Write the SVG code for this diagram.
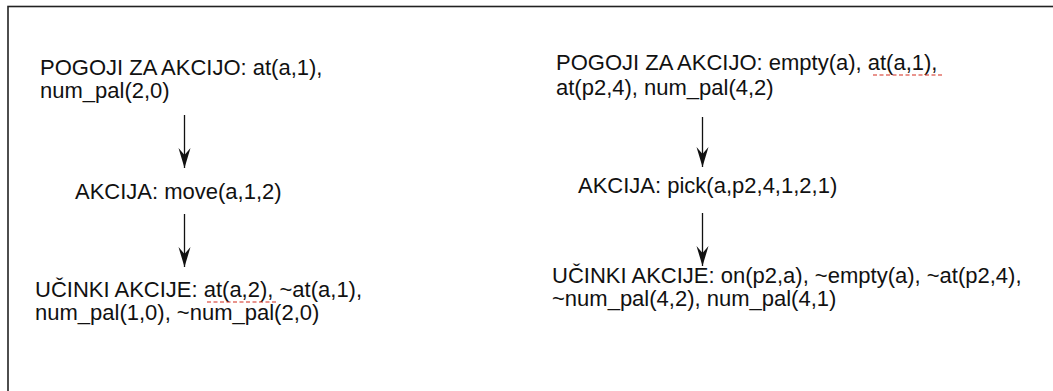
<svg xmlns="http://www.w3.org/2000/svg" width="1053" height="391" viewBox="0 0 1053 391">
  <style>
    .t { font-family: "Liberation Sans", Arial, sans-serif; font-size: 22px; fill: #111; }
    .frame { fill: none; stroke: #222; stroke-width: 1.6; }
    .edge { stroke: #111; stroke-width: 1.3; fill: none; marker-end: url(#head); }
    .wavy { stroke: #d42a1c; stroke-width: 1.2; stroke-dasharray: 4 2.5; fill: none; }
  </style>
  <defs>
    <marker id="head" markerUnits="userSpaceOnUse" viewBox="-21 -7 22 14" markerWidth="22" markerHeight="14" refX="0" refY="0" orient="auto">
      <path d="M0,0 L-20,-6 L-13,0 L-20,6 Z" fill="#111"/>
    </marker>
  </defs>
  <rect width="1053" height="391" fill="#fff"/>
  <!-- outer frame (continues past the right and bottom edges) -->
  <rect class="frame" x="8" y="6.5" width="1080" height="420"/>

  <g id="connectors">
    <line class="edge" x1="184.5" y1="115" x2="184.5" y2="168"/>
    <line class="edge" x1="184.5" y1="214" x2="184.5" y2="267"/>
    <line class="edge" x1="702.5" y1="117" x2="702.5" y2="167"/>
    <line class="edge" x1="702.5" y1="213" x2="702.5" y2="266"/>
  </g>

  <g id="left-pre">
    <text class="t" x="40" y="75">POGOJI ZA AKCIJO: at(a,1),</text>
    <text class="t" x="40" y="98">num_pal(2,0)</text>
  </g>
  <g id="left-action">
    <text class="t" x="75" y="199">AKCIJA: move(a,1,2)</text>
  </g>
  <g id="left-effects">
    <text class="t" x="35" y="297">UČINKI AKCIJE: at(a,2), ~at(a,1),</text>
    <text class="t" x="35" y="320">num_pal(1,0), ~num_pal(2,0)</text>
    <line class="wavy" x1="207" y1="302" x2="277" y2="302"/>
  </g>

  <g id="right-pre">
    <text class="t" x="556" y="70">POGOJI ZA AKCIJO: empty(a), at(a,1),</text>
    <text class="t" x="556" y="95">at(p2,4), num_pal(4,2)</text>
    <line class="wavy" x1="873" y1="75" x2="942" y2="75"/>
  </g>
  <g id="right-action">
    <text class="t" x="578" y="193">AKCIJA: pick(a,p2,4,1,2,1)</text>
  </g>
  <g id="right-effects">
    <text class="t" x="552" y="283">UČINKI AKCIJE: on(p2,a), ~empty(a), ~at(p2,4),</text>
    <text class="t" x="552" y="306">~num_pal(4,2), num_pal(4,1)</text>
  </g>
</svg>
